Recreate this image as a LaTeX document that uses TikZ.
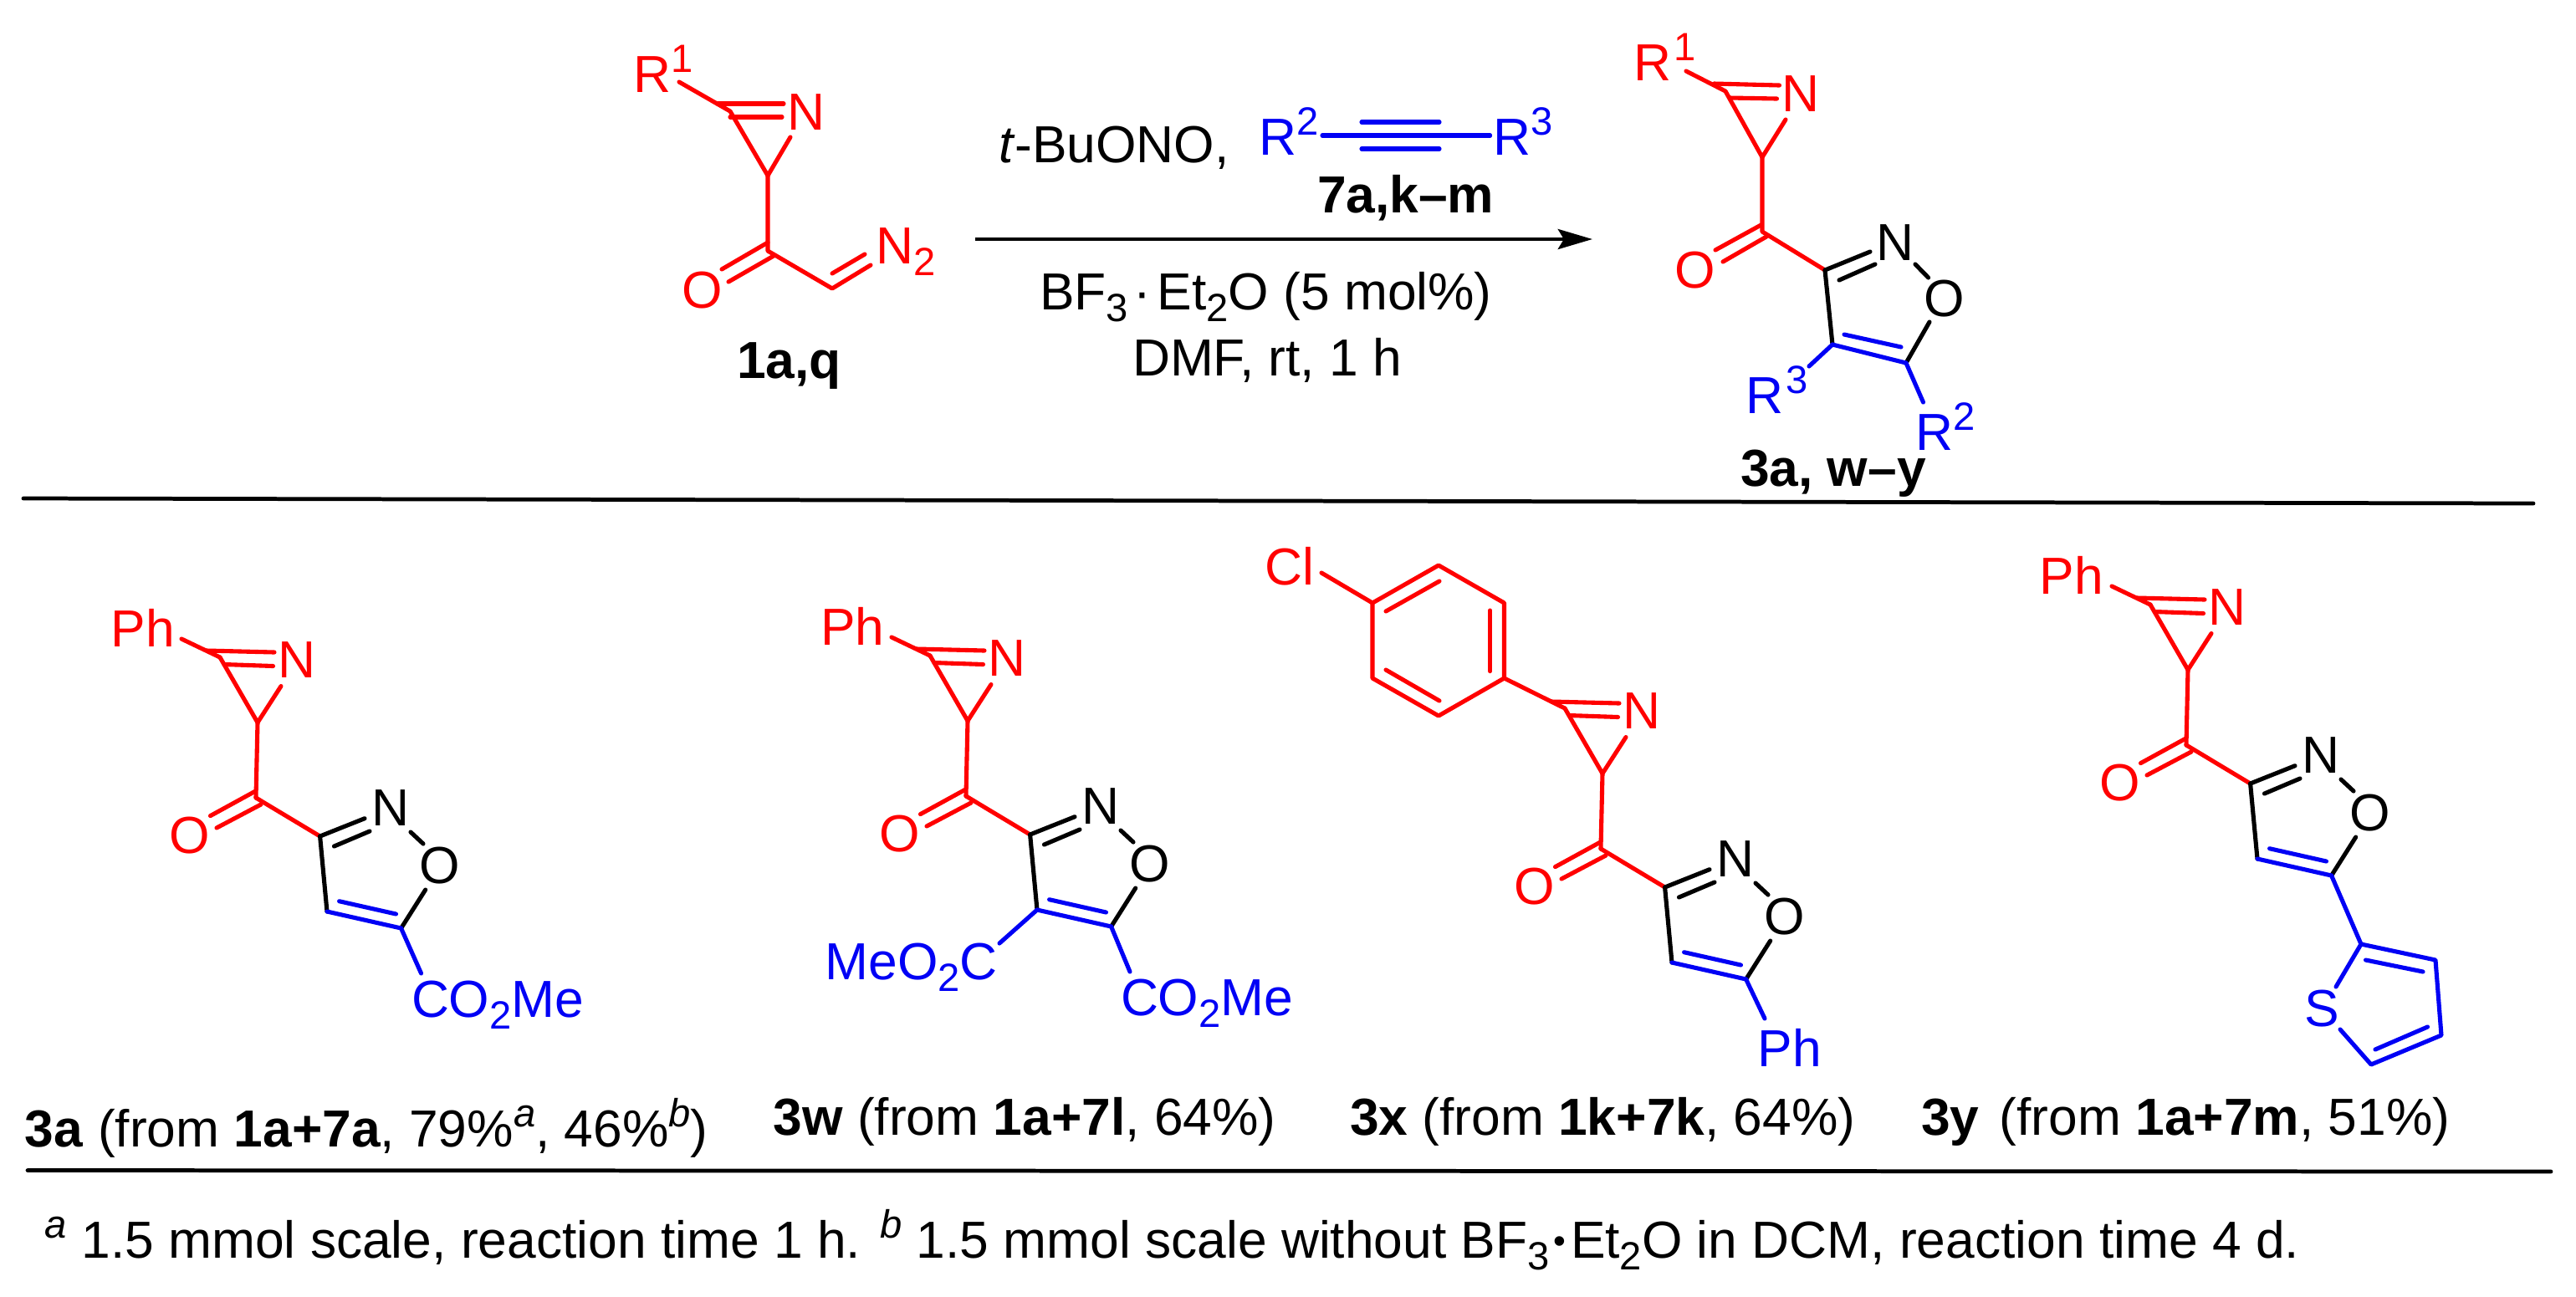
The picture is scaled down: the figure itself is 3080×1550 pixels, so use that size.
\documentclass[tikz,border=0pt]{standalone}
\usepackage{fontspec}
\setmainfont{Liberation Sans}
\usetikzlibrary{arrows.meta}
\definecolor{chemred}{RGB}{255,0,0}
\definecolor{chemblue}{RGB}{0,0,245}
\newcommand\bodyfont{\fontsize{17.72}{20}\selectfont}
\newcommand\sups[1]{\raisebox{6.8pt}{\fontsize{13.4}{15}\selectfont #1}}
\newcommand\subs[1]{\raisebox{-4pt}{\fontsize{13.4}{15}\selectfont #1}}
\tikzset{
  bond/.style={line width=1.45pt,line cap=round,line join=round},
  rb/.style={bond,draw=chemred},
  bb/.style={bond,draw=chemblue},
  kb/.style={bond,draw=black},
  rule/.style={line width=1.35pt,draw=black,line cap=round},
  lab/.style={inner sep=0pt,outer sep=0pt,anchor=base west,font=\bodyfont,text=black},
  atom/.style={inner sep=0pt,outer sep=0pt,anchor=base,font=\bodyfont,text=black},
  ra/.style={atom,text=chemred},
  ka/.style={atom,text=black},
  ba/.style={atom,text=chemblue},
  rl/.style={lab,text=chemred},
  bl/.style={lab,text=chemblue}
}
% common azirine-carbonyl-isoxazole core: prefix, x shift, y shift
\newcommand\isoxcore[3]{%
\begin{scope}[shift={(#2,#3)}]
  \coordinate (#1rbeg) at (217,764);
  \coordinate (#1c2) at (263,786);
  \coordinate (#1d1a) at (247,778);
  \coordinate (#1d1b) at (328,780);
  \coordinate (#1d2a) at (268,794.5);
  \coordinate (#1d2b) at (326.5,796.5);
  \coordinate (#1ch) at (308,864);
  \coordinate (#1nend) at (336,820.5);
  \coordinate (#1co) at (306,954);
  \coordinate (#1oa) at (304.6,946.5);
  \coordinate (#1ob) at (251.5,975.6);
  \coordinate (#1oc) at (312,962);
  \coordinate (#1od) at (259,990);
  \coordinate (#1c3) at (382.6,1000);
  \coordinate (#1e1) at (436,978.7);
  \coordinate (#1e2a) at (399.5,1012);
  \coordinate (#1e2b) at (442,994);
  \coordinate (#1ni) at (491,995);
  \coordinate (#1oi) at (506,1009);
  \coordinate (#1oe) at (508.7,1064);
  \coordinate (#1c5) at (479.6,1110);
  \coordinate (#1c4) at (391,1090);
  \coordinate (#1f1) at (405.6,1077.7);
  \coordinate (#1f2) at (473.5,1093);
  \node[ra] (#1azn) at (355,810) {N};
  \node[ra] (#1coo) at (227,1020) {O};
  \node[ka] (#1isn) at (467,987) {N};
  \node[ka] (#1iso) at (525.5,1056) {O};
\end{scope}
\draw[rb] (#1d1a) -- (#1d1b);
\draw[rb] (#1d2a) -- (#1d2b);
\draw[rb] (#1c2) -- (#1ch) -- (#1nend);
\draw[rb] (#1ch) -- (#1co);
\draw[rb] (#1oa) -- (#1ob);
\draw[rb] (#1oc) -- (#1od);
\draw[rb] (#1co) -- (#1c3);
\draw[kb] (#1c3) -- (#1e1);
\draw[kb] (#1e2a) -- (#1e2b);
\draw[kb] (#1ni) -- (#1oi);
\draw[kb] (#1oe) -- (#1c5);
\draw[kb] (#1c3) -- (#1c4);
\draw[bb] (#1c4) -- (#1c5);
\draw[bb] (#1f1) -- (#1f2);
}
\begin{document}
\begin{tikzpicture}[x=0.01cm,y=-0.01cm]
\useasboundingbox[fill=white] (0,0) rectangle (3080,1550);

% --- reactant 1a,q
\node[rl] (r1) at (757,110) {R\sups{1}};
\node[ra] (rn) at (963.5,155) {N};
\node[ra] (ro) at (839.5,368) {O};
\node[rl] (rn2) at (1047.5,315) {N\subs{2}};
\node[lab] (rlabel) at (881,452) {\textbf{1a,q}};
\coordinate (ra1) at (812,98);
\coordinate (ra2) at (873,133);
\coordinate (ra3) at (858,124);
\coordinate (ra4) at (937,124);
\coordinate (ra5) at (873,140);
\coordinate (ra6) at (935,140);
\coordinate (ra7) at (918,210);
\coordinate (ra8) at (945,164);
\coordinate (ra9) at (918,300);
\coordinate (ra10) at (918,290);
\coordinate (ra11) at (863,322);
\coordinate (ra12) at (925,306);
\coordinate (ra13) at (871,337);
\coordinate (ra14) at (995,345);
\coordinate (ra15) at (1041,317);
\coordinate (ra16) at (995,327);
\coordinate (ra17) at (1034,304);
\draw[rb] (ra1) -- (ra2) -- (ra7) -- (ra8);
\draw[rb] (ra3) -- (ra4);
\draw[rb] (ra5) -- (ra6);
\draw[rb] (ra7) -- (ra9) -- (ra14) -- (ra15);
\draw[rb] (ra10) -- (ra11);
\draw[rb] (ra12) -- (ra13);
\draw[rb] (ra16) -- (ra17);

% --- reagents and arrow
\coordinate (arS) at (1166,286);
\coordinate (arE) at (1904,286);
\draw[line width=1.35pt,-{Stealth[length=11.7pt,width=6.8pt,inset=2pt]}] (arS) -- (arE);
\node[lab] (tbu) at (1194,194) {\textit{t}-BuONO,};
\node[bl] (yr2) at (1505,185) {R\sups{2}};
\node[bl] (yr3) at (1785,185) {R\sups{3}};
\coordinate (y1) at (1581,162);
\coordinate (y2) at (1781.6,162);
\coordinate (y3) at (1628,146);
\coordinate (y4) at (1721,146);
\coordinate (y5) at (1628,178);
\coordinate (y6) at (1721,178);
\draw[bb] (y1) -- (y2);
\draw[bb] (y3) -- (y4);
\draw[bb] (y5) -- (y6);
\node[lab] (ylabel) at (1575,254) {\textbf{7a,k–m}};
\node[lab] (cat) at (1243,370) {BF\subs{3}\hspace{2pt}·\hspace{2pt}Et\subs{2}O (5 mol\%)};
\node[lab] (cond) at (1354,449) {DMF, rt, 1 h};

% --- product 3a, w-y
\node[rl] (p1) at (1953,96) {R\hspace{1pt}\sups{1}};
\node[ra] (pn) at (2153,133) {N};
\node[ra] (po) at (2027,344) {O};
\node[ka] (pin) at (2266,311) {N};
\node[ka] (pio) at (2325,378.5) {O};
\node[bl] (pr3) at (2087,494.5) {R\hspace{1pt}\sups{3}};
\node[bl] (pr2) at (2290,538) {R\sups{2}};
\node[lab] (plabel) at (2081,581) {\textbf{3a,\hspace{0pt} w–y}};
\coordinate (pa1) at (2016,85);
\coordinate (pa2) at (2063,109);
\coordinate (pa3) at (2049.5,100);
\coordinate (pa4) at (2127.5,102);
\coordinate (pa5) at (2068,117);
\coordinate (pa6) at (2124.5,118);
\coordinate (pa7) at (2107,188);
\coordinate (pa8) at (2135,143);
\coordinate (pa9) at (2107,277);
\coordinate (pa10) at (2105.6,269);
\coordinate (pa11) at (2051,299);
\coordinate (pa12) at (2112,283);
\coordinate (pa13) at (2060,313);
\coordinate (pa14) at (2182,323);
\coordinate (pa15) at (2236,301);
\coordinate (pa16) at (2199,335);
\coordinate (pa17) at (2242,316);
\coordinate (pa18) at (2290,316);
\coordinate (pa19) at (2305.6,332);
\coordinate (pa20) at (2307,385);
\coordinate (pa21) at (2279,434);
\coordinate (pa22) at (2191,412);
\coordinate (pa23) at (2205,400);
\coordinate (pa24) at (2273,415);
\coordinate (pa25) at (2163,438);
\coordinate (pa26) at (2299.5,481);
\draw[rb] (pa1) -- (pa2) -- (pa7) -- (pa8);
\draw[rb] (pa3) -- (pa4);
\draw[rb] (pa5) -- (pa6);
\draw[rb] (pa7) -- (pa9) -- (pa14);
\draw[rb] (pa10) -- (pa11);
\draw[rb] (pa12) -- (pa13);
\draw[kb] (pa14) -- (pa15);
\draw[kb] (pa16) -- (pa17);
\draw[kb] (pa18) -- (pa19);
\draw[kb] (pa20) -- (pa21);
\draw[kb] (pa14) -- (pa22);
\draw[bb] (pa22) -- (pa21);
\draw[bb] (pa23) -- (pa24);
\draw[bb] (pa22) -- (pa25);
\draw[bb] (pa21) -- (pa26);

\coordinate (l1a) at (28,596);
\coordinate (l1b) at (3029,602);
\draw[rule] (l1a) -- (l1b);

% --- 3a
\isoxcore{a}{0}{0}
\node[rl] (aph) at (132.5,773) {Ph};
\draw[rb] (arbeg) -- (ac2);
\coordinate (asub) at (503.6,1164);
\draw[bb] (ac5) -- (asub);
\node[bl] (aco) at (492,1216) {CO\subs{2}Me};
\node[lab] (alab) at (30,1371) {\textbf{3a} (from \textbf{1a+7a}, 79\%\sups{\textit{a}}, 46\%\sups{\textit{b}})};

% --- 3w
\isoxcore{w}{849}{-2}
\node[rl] (wph) at (981,771) {Ph};
\draw[rb] (wrbeg) -- (wc2);
\coordinate (wsub) at (1351,1162);
\draw[bb] (wc5) -- (wsub);
\coordinate (wsub2) at (1195,1128);
\draw[bb] (wc4) -- (wsub2);
\node[bl] (wco) at (1340,1214) {CO\subs{2}Me};
\node[bl] (wme) at (986.5,1171) {MeO\subs{2}C};
\node[lab] (wlab) at (924.5,1357) {\textbf{3w} (from \textbf{1a+7l}, 64\%)};

% --- 3x
\isoxcore{x}{1608}{61}
\coordinate (h1) at (1798.5,811);
\coordinate (h2) at (1798.5,721);
\coordinate (h3) at (1720,676);
\coordinate (h4) at (1641,721);
\coordinate (h5) at (1641,811);
\coordinate (h6) at (1720,856);
\draw[rb] (h1) -- (h2) -- (h3) -- (h4) -- (h5) -- (h6) -- cycle;
\coordinate (i1) at (1781.6,730);
\coordinate (i2) at (1781.6,802.6);
\coordinate (i3) at (1657,731);
\coordinate (i4) at (1721,695);
\coordinate (i5) at (1657,801);
\coordinate (i6) at (1721,838);
\draw[rb] (i1) -- (i2);
\draw[rb] (i3) -- (i4);
\draw[rb] (i5) -- (i6);
\draw[rb] (h1) -- (xc2);
\coordinate (clb) at (1580,685);
\draw[rb] (h4) -- (clb);
\node[rl] (xcl) at (1512,699) {Cl};
\coordinate (xsub) at (2110,1218);
\draw[bb] (xc5) -- (xsub);
\node[bl] (xph) at (2101.5,1275) {Ph};
\node[lab] (xlab) at (1614,1357) {\textbf{3x} (from \textbf{1k+7k}, 64\%)};

% --- 3y
\isoxcore{y}{2308}{-63}
\node[rl] (yph) at (2438.5,710) {Ph};
\draw[rb] (yrbeg) -- (yc2);
\coordinate (t2) at (2823,1129);
\coordinate (t3) at (2912,1148);
\coordinate (t4) at (2919,1238);
\coordinate (t5) at (2835,1273);
\coordinate (t6) at (2793,1180);
\coordinate (t7) at (2798,1231);
\coordinate (t8) at (2828.5,1148);
\coordinate (t9) at (2897,1162);
\coordinate (t10) at (2902.5,1228);
\coordinate (t11) at (2840,1255);
\draw[bb] (yc5) -- (t2);
\draw[bb] (t6) -- (t2) -- (t3) -- (t4) -- (t5) -- (t7);
\draw[bb] (t8) -- (t9);
\draw[bb] (t10) -- (t11);
\node[ba] (ys) at (2776,1227) {S};
\node[lab] (ylab) at (2297,1357) {\textbf{3y}\hspace{2pt} (from \textbf{1a+7m}, 51\%)};

% --- rule and footnote
\coordinate (l2a) at (33,1399.5);
\coordinate (l2b) at (3050,1401);
\draw[rule] (l2a) -- (l2b);
\node[lab] (foot) at (54,1504) {\sups{\textit{a}} 1.5 mmol scale, reaction time 1 h. \sups{\textit{b}} 1.5 mmol scale without BF\subs{3}\hspace{1.5pt}\raisebox{1.6pt}{\fontsize{12}{14}\selectfont •}\hspace{1.5pt}Et\subs{2}O in DCM, reaction time 4 d.};
\end{tikzpicture}
\end{document}
